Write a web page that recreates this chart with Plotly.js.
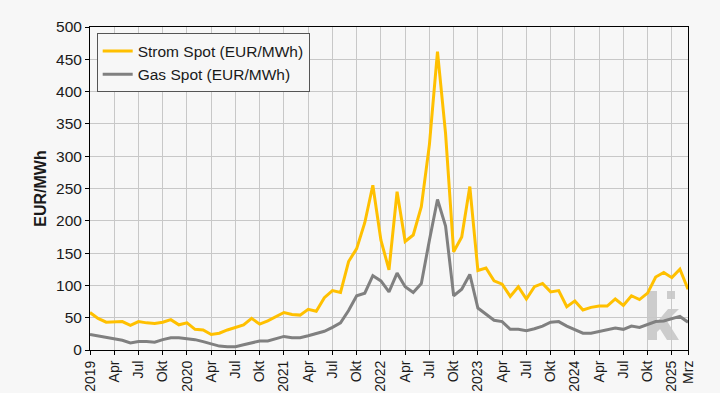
<!DOCTYPE html>
<html>
<head>
<meta charset="utf-8">
<script src="https://cdn.plot.ly/plotly-3.0.1.min.js"></script>
<style>
html,body{margin:0;padding:0;background:#f7f7f7;}
#chart{width:720px;height:393px;}
</style>
</head>
<body>
<div id="chart"></div>
<script>
const months = [
 "2019-01","2019-02","2019-03","2019-04","2019-05","2019-06","2019-07","2019-08","2019-09","2019-10","2019-11","2019-12",
 "2020-01","2020-02","2020-03","2020-04","2020-05","2020-06","2020-07","2020-08","2020-09","2020-10","2020-11","2020-12",
 "2021-01","2021-02","2021-03","2021-04","2021-05","2021-06","2021-07","2021-08","2021-09","2021-10","2021-11","2021-12",
 "2022-01","2022-02","2022-03","2022-04","2022-05","2022-06","2022-07","2022-08","2022-09","2022-10","2022-11","2022-12",
 "2023-01","2023-02","2023-03","2023-04","2023-05","2023-06","2023-07","2023-08","2023-09","2023-10","2023-11","2023-12",
 "2024-01","2024-02","2024-03","2024-04","2024-05","2024-06","2024-07","2024-08","2024-09","2024-10","2024-11","2024-12",
 "2025-01","2025-02","2025-03"
];

const stromSpot = [
 58,49,43,43,44,38,44,42,41,43,47,39,
 42,32,31,24,26,31,35,39,49,40,45,52,
 58,55,54,63,60,81,92,89,137,157,197,255,
 170,124,245,168,178,222,318,462,335,152,175,253,
 123,127,107,102,83,98,79,98,103,90,92,67,
 76,62,66,68,68,79,69,84,78,88,113,120,
 112,125,94
];

const gasSpot = [
 24,22,19,17,15,11,13,13,12,16,19,19,
 18,16,13,9,6,5,5,8,11,14,14,17,
 21,19,19,22,26,29,35,42,61,84,88,115,
 107,90,119,98,89,103,170,233,192,84,94,117,
 65,55,46,44,32,32,30,33,37,43,44,37,
 31,26,26,29,32,34,32,37,35,40,44,45,
 48,52,43
];

const tickMonths = [
 "2019-01","2019-04","2019-07","2019-10",
 "2020-01","2020-04","2020-07","2020-10",
 "2021-01","2021-04","2021-07","2021-10",
 "2022-01","2022-04","2022-07","2022-10",
 "2023-01","2023-04","2023-07","2023-10",
 "2024-01","2024-04","2024-07","2024-10",
 "2025-01","2025-03"
];
const tickLabels = [
 "2019","Apr","Jul","Okt",
 "2020","Apr","Jul","Okt",
 "2021","Apr","Jul","Okt",
 "2022","Apr","Jul","Okt",
 "2023","Apr","Jul","Okt",
 "2024","Apr","Jul","Okt",
 "2025","Mrz"
];

const seriesNames = ["Strom Spot (EUR/MWh)","Gas Spot (EUR/MWh)"];

// plot area in pixels: left 90, right 688, top 27, bottom 350
const L=90, R=688, T=27, B=350;
function px(x){return ((x-L)/(R-L)).toFixed(4);}
function py(y){return ((B-y)/(B-T)).toFixed(4);}
function pathFrom(pts){
  return 'M' + pts.map(p => px(p[0])+','+py(p[1])).join(' L') + ' Z';
}
const logoColor = '#cccccc';
const shapes = [
  {type:'path', xref:'paper', yref:'paper', layer:'below', line:{width:0}, fillcolor:logoColor,
   path: pathFrom([[647,291],[657,291],[657,340],[647,340]])},
  {type:'path', xref:'paper', yref:'paper', layer:'below', line:{width:0}, fillcolor:logoColor,
   path: pathFrom([[657,322],[668,309],[679,309],[667,321],[679,340],[667,340],[660,329],[657,332]])},
  {type:'path', xref:'paper', yref:'paper', layer:'below', line:{width:0}, fillcolor:logoColor,
   path: pathFrom([[667,291],[675,291],[675,299],[667,299]])}
];

const traces = [
  {x: months, y: stromSpot, name: seriesNames[0], type:'scatter', mode:'lines',
   line:{color:'#ffc000', width:3}},
  {x: months, y: gasSpot, name: seriesNames[1], type:'scatter', mode:'lines',
   line:{color:'#808080', width:3}}
];

const layout = {
  width:720, height:393,
  margin:{l:L, r:720-R, t:T, b:393-B},
  paper_bgcolor:'#f7f7f7',
  plot_bgcolor:'rgba(0,0,0,0)',
  font:{family:'"Liberation Sans", Arial, sans-serif', color:'#1a1a1a', size:15},
  showlegend:true,
  legend:{x:0.0112, y:0.98, xanchor:'left', yanchor:'top',
    bgcolor:'#f7f7f7', bordercolor:'#555555', borderwidth:1,
    font:{size:15.5, color:'#1a1a1a'}, tracegroupgap:0},
  xaxis:{type:'category', range:[0, months.length-1],
    tickmode:'array', tickvals:tickMonths, ticktext:tickLabels,
    tickangle:-90, tickfont:{size:14, color:'#1a1a1a'},
    ticks:'outside', ticklen:4, tickcolor:'#000',
    showgrid:true, gridcolor:'#c8c8c8', gridwidth:1,
    showline:true, linecolor:'#000', linewidth:1, mirror:true,
    zeroline:false, fixedrange:true},
  yaxis:{range:[0,500], dtick:50, tick0:0,
    tickfont:{size:15.5, color:'#1a1a1a'},
    ticks:'outside', ticklen:4, tickcolor:'#000',
    showgrid:true, gridcolor:'#c8c8c8', gridwidth:1,
    showline:true, linecolor:'#000', linewidth:1, mirror:true,
    zeroline:false, fixedrange:true,
    title:{text:'<b>EUR/MWh</b>', font:{size:16, color:'#1a1a1a'}, standoff:5}},
  shapes: shapes
};

Plotly.newPlot('chart', traces, layout, {displayModeBar:false, staticPlot:true});
</script>
</body>
</html>
